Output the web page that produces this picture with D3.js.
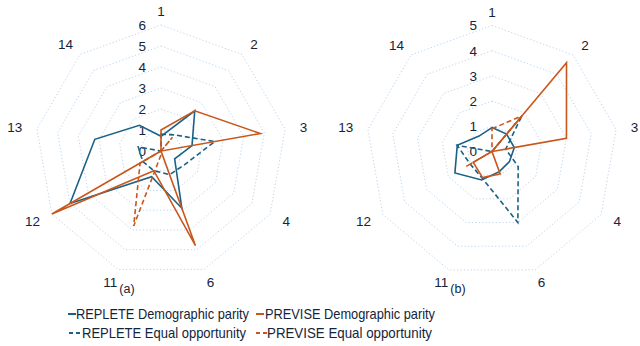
<!DOCTYPE html>
<html><head><meta charset="utf-8">
<script src="https://cdn.jsdelivr.net/npm/d3@7"></script>
<style>
body{margin:0;background:#fff;}
svg{display:block;}
</style></head>
<body>
<svg id="chart" width="640" height="346"></svg>
<script>
// ---- data ----
const axes = ["1","2","3","4","6","11","12","13","14"];
const ticksA = [0,1,2,3,4,5,6];
const ticksB = [0,1,2,3,4,5];
// chart (a)
const repleteDP_a = [0.7, 2.5, 1.5, 0.75, 2.9, 1.3, 5.0, 3.2, 1.6];
const repleteEO_a = [0.8, 1.0, 2.6, 1.3, 1.2, 1.0, 1.0, 1.1, 0];
const previseDP_a = [1.0, 2.5, 4.8, 0, 4.8, 1.0, 6.0, 0, 0];
const previseEO_a = [0, 0.85, 0, 0, 0.1, 3.8, 1.15, 0, 0];
// chart (b)
const repleteDP_b = [0.95, 0.9, 0.9, 0.8, 0.85, 1.2, 1.7, 1.4, 0.8];
const repleteEO_b = [0, 1.85, 0.55, 1.2, 3.0, 1.13, 1.0, 1.4, 0];
const previseDP_b = [0, 4.6, 3.0, 0, 0.95, 1.1, 0.86, 0, 0];
const previseEO_b = [0.9, 1.85, 0, 0, 0, 0, 1.2, 0, 0];

const seriesNames = ["REPLETE Demographic parity","REPLETE Equal opportunity","PREVISE Demographic parity","PREVISE Equal opportunity"];
const panelLabels = ["(a)","(b)"];

const BLUE = "#1b6186", ORANGE = "#c9561b", GRID = "#bcd5ee", TEXT = "#14243a";
const styles = [
  {color: BLUE, dash: null},
  {color: BLUE, dash: "5,3"},
  {color: ORANGE, dash: null},
  {color: ORANGE, dash: "5,3"}
];

const svg = d3.select("#chart");
const R = 126;
const angle = d3.scaleLinear().domain([0, axes.length]).range([0, 2*Math.PI]);

function radar(cx, cy, maxV, ticks, seriesList, panelLabel) {
  const r = d3.scaleLinear().domain([0, maxV]).range([0, R]);
  const g = svg.append("g").attr("transform", `translate(${cx},${cy})`);
  // grid rings
  ticks.filter(t => t > 0).forEach(t => {
    const pts = axes.map((a, i) => {
      const an = angle(i);
      return [Math.sin(an)*r(t), -Math.cos(an)*r(t)];
    });
    g.append("polygon").attr("points", pts.map(p => p.join(",")).join(" "))
      .attr("fill", "none").attr("stroke", GRID).attr("stroke-width", 1)
      .attr("stroke-dasharray", "1.2,2.2");
  });
  // tick labels
  ticks.forEach(t => {
    g.append("text").attr("x", -15).attr("y", -r(t)).attr("dy", "0.36em")
      .attr("text-anchor", "end").attr("font-family", "Liberation Sans, Arial, sans-serif")
      .attr("font-size", 13.5).attr("fill", TEXT).text(t);
  });
  // series
  const line = d3.lineRadial().angle((d, i) => angle(i)).radius(d => r(d)).curve(d3.curveLinearClosed);
  seriesList.forEach((vals, k) => {
    g.append("path").attr("d", line(vals)).attr("fill", "none")
      .attr("stroke", styles[k].color).attr("stroke-width", 1.6)
      .attr("stroke-dasharray", styles[k].dash).attr("stroke-linejoin", "miter");
  });
  // axis labels
  axes.forEach((a, i) => {
    const an = angle(i), s = Math.sin(an), c = Math.cos(an);
    const w = a.length * 7.4;
    const x = s*R + s*(15 + w/2);
    const y = -c*R - c*(7 + 6.5);
    g.append("text").attr("x", x).attr("y", y).attr("dy", "0.36em")
      .attr("text-anchor", "middle").attr("font-family", "Liberation Sans, Arial, sans-serif")
      .attr("font-size", 13.5).attr("fill", TEXT).text(a);
  });
  // panel label
  g.append("text").attr("x", -34).attr("y", 137).attr("dy", "0.36em")
    .attr("text-anchor", "middle").attr("font-family", "Liberation Sans, Arial, sans-serif")
    .attr("font-size", 12.5).attr("fill", TEXT).text(panelLabel);
}

radar(161, 151, 6, ticksA, [repleteDP_a, repleteEO_a, previseDP_a, previseEO_a], panelLabels[0]);
radar(492, 151.5, 5, ticksB, [repleteDP_b, repleteEO_b, previseDP_b, previseEO_b], panelLabels[1]);

// legend
const legendPos = [
  {x: 68, y: 314, tx: 76, w: 173},
  {x: 69, y: 333, tx: 82, w: 164},
  {x: 256, y: 314, tx: 265, w: 170},
  {x: 256, y: 333, tx: 267, w: 165}
];
seriesNames.forEach((name, k) => {
  const p = legendPos[k];
  const lg = svg.append("g");
  const len = styles[k].dash ? 12 : 8;
  lg.append("line").attr("x1", p.x).attr("x2", p.x + len).attr("y1", p.y).attr("y2", p.y)
    .attr("stroke", styles[k].color).attr("stroke-width", 2)
    .attr("stroke-dasharray", styles[k].dash ? "4,3" : null);
  lg.append("text").attr("x", p.tx).attr("y", p.y).attr("dy", "0.36em")
    .attr("font-family", "Liberation Sans Narrow, Liberation Sans, Arial, sans-serif")
    .attr("font-size", 15).attr("fill", TEXT)
    .attr("textLength", p.w).attr("lengthAdjust", "spacingAndGlyphs").text(name);
});
</script>
</body></html>
